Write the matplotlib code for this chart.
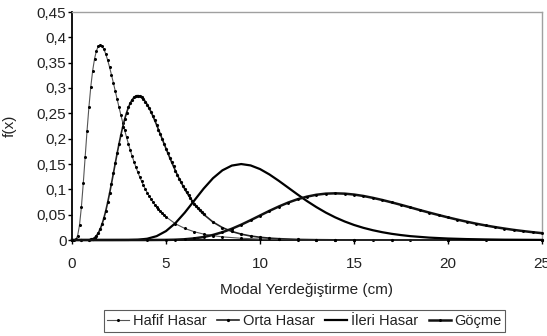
import numpy as np
import matplotlib.pyplot as plt
from matplotlib.ticker import FuncFormatter

plt.rcParams['font.family'] = ['Liberation Sans', 'DejaVu Sans']

# Hafif Hasar (slight damage) - fine steps on the peak, coarse in the tail
x_hafif = [0, 0.1, 0.2, 0.3, 0.4, 0.5, 0.6, 0.7, 0.8, 0.9,
           1.0, 1.1, 1.2, 1.3, 1.4, 1.5, 1.6, 1.7, 1.8, 1.9,
           2.0, 2.1, 2.2, 2.3, 2.4, 2.5, 2.6, 2.7, 2.8, 2.9,
           3.0, 3.1, 3.2, 3.3, 3.4, 3.5, 3.6, 3.7, 3.8, 3.9,
           4.0, 4.1, 4.2, 4.3, 4.4, 4.5, 4.6, 4.7, 4.8, 4.9,
           5.0, 5.5, 6.0, 6.5, 7.0, 7.5, 8.0, 9, 10, 11, 12, 13, 14, 15,
           16, 18, 20, 22, 25]
f_hafif = [0, 0, 0.001, 0.0085, 0.0295, 0.0653, 0.1121, 0.1640, 0.2155, 0.2624,
           0.3025, 0.3344, 0.3579, 0.3737, 0.3824, 0.3850, 0.3826, 0.3762, 0.3666, 0.3546,
           0.3408, 0.3258, 0.3102, 0.2942, 0.2781, 0.2622, 0.2466, 0.2315, 0.2169, 0.2030,
           0.1898, 0.1772, 0.1653, 0.1542, 0.1437, 0.1338, 0.1246, 0.1160, 0.1079, 0.1004,
           0.0934, 0.0869, 0.0809, 0.0752, 0.0700, 0.0651, 0.0606, 0.0564, 0.0526, 0.0489,
           0.0456, 0.0321, 0.0228, 0.0163, 0.0117, 0.0085, 0.0062, 0.0034, 0.0019, 0.0011,
           0.0007, 0.0004, 0.0003, 0.0002, 0.0001, 0.0001, 0, 0, 0]

# Orta Hasar (moderate damage)
x_orta = [0, 0.5, 0.9,
          1.0, 1.1, 1.2, 1.3, 1.4, 1.5, 1.6, 1.7, 1.8, 1.9,
          2.0, 2.1, 2.2, 2.3, 2.4, 2.5, 2.6, 2.7, 2.8, 2.9,
          3.0, 3.1, 3.2, 3.3, 3.4, 3.5, 3.6, 3.7, 3.8, 3.9,
          4.0, 4.1, 4.2, 4.3, 4.4, 4.5, 4.6, 4.7, 4.8, 4.9,
          5.0, 5.1, 5.2, 5.3, 5.4, 5.5, 5.6, 5.7, 5.8, 5.9,
          6.0, 6.1, 6.2, 6.3, 6.4, 6.5, 6.6, 6.7, 6.8, 6.9,
          7.0, 7.5, 8.0, 8.5, 9.0, 9.5, 10, 10.5, 11, 12, 13, 14, 15,
          17, 20, 25]
f_orta = [0, 0, 0.0003,
          0.0010, 0.0023, 0.0046, 0.0084, 0.0139, 0.0216, 0.0315, 0.0437, 0.0581, 0.0745,
          0.0924, 0.1115, 0.1313, 0.1512, 0.1708, 0.1897, 0.2074, 0.2237, 0.2383, 0.2510,
          0.2616, 0.2703, 0.2769, 0.2815, 0.2842, 0.2850, 0.2842, 0.2819, 0.2782, 0.2733,
          0.2674, 0.2605, 0.2530, 0.2448, 0.2362, 0.2272, 0.2180, 0.2086, 0.1992, 0.1898,
          0.1805, 0.1713, 0.1623, 0.1536, 0.1451, 0.1369, 0.1289, 0.1213, 0.1140, 0.1070,
          0.1004, 0.0941, 0.0881, 0.0824, 0.0770, 0.0719, 0.0672, 0.0627, 0.0584, 0.0545,
          0.0507, 0.0354, 0.0245, 0.0168, 0.0116, 0.0079, 0.0054, 0.0037, 0.0026, 0.0012,
          0.0006, 0.0003, 0.0001, 0, 0, 0]

# Ileri Hasar (extensive damage)
x_ileri = [0, 2.0, 3.0, 3.5, 4.0, 4.5, 5.0, 5.5, 6.0, 6.5, 7.0, 7.5, 8.0, 8.5,
           9.0, 9.5, 10, 10.5, 11, 11.5, 12, 12.5, 13, 13.5, 14, 14.5,
           15, 15.5, 16, 16.5, 17, 17.5, 18, 19, 20, 21, 22, 23, 24, 25]
f_ileri = [0, 0, 0.0001, 0.0006, 0.0025, 0.0076, 0.0176, 0.0333, 0.0541, 0.0777,
           0.1013, 0.1220, 0.1375, 0.1469, 0.1499, 0.1472, 0.1400, 0.1294, 0.1168,
           0.1033, 0.0898, 0.0768, 0.0649, 0.0541, 0.0447, 0.0366, 0.0297, 0.0240,
           0.0193, 0.0154, 0.0122, 0.0097, 0.0076, 0.0047, 0.0029, 0.0018, 0.0011,
           0.0006, 0.0004, 0.0002]

# Gocme (collapse)
x_gocme = [0, 4.0, 5.0, 5.5, 6.0, 6.5, 7.0, 7.5, 8.0, 8.5, 9.0, 9.5, 10, 10.5,
           11, 11.5, 12, 12.5, 13, 13.5, 14, 14.5, 15, 15.5, 16, 16.5, 17, 17.5,
           18, 18.5, 19, 19.5, 20, 20.5, 21, 21.5, 22, 22.5, 23, 23.5, 24, 24.5, 25]
f_gocme = [0, 0, 0.0002, 0.0006, 0.0015, 0.0032, 0.0059, 0.0100, 0.0154, 0.0222,
           0.0302, 0.0391, 0.0483, 0.0575, 0.0661, 0.0739, 0.0805, 0.0856, 0.0893,
           0.0915, 0.0921, 0.0915, 0.0897, 0.0869, 0.0832, 0.0790, 0.0743, 0.0694,
           0.0643, 0.0591, 0.0541, 0.0493, 0.0446, 0.0402, 0.0361, 0.0322, 0.0287,
           0.0255, 0.0226, 0.0199, 0.0176, 0.0154, 0.0135]

fig = plt.figure(figsize=(5.47, 3.36), dpi=100)
ax = fig.add_axes([72/547, 1 - 240/336, 470/547, 228/336])

ax.plot(x_hafif, f_hafif, color='#555555', lw=0.8, marker='.', ms=2.4,
        mfc='black', mec='black', label='Hafif Hasar', clip_on=False, zorder=3)
ax.plot(x_orta, f_orta, color='#222222', lw=1.2, marker='.', ms=2.6,
        mfc='black', mec='black', label='Orta Hasar', clip_on=False, zorder=3)
ax.plot(x_ileri, f_ileri, color='black', lw=1.6, label='İleri Hasar',
        clip_on=False, zorder=3)
ax.plot(x_gocme, f_gocme, color='#111111', lw=1.8, marker='.', ms=2.2,
        mfc='black', mec='black', label='Göçme', clip_on=False, zorder=3)

ax.set_xlim(0, 25)
ax.set_ylim(0, 0.45)
ax.set_xticks([0, 5, 10, 15, 20, 25])
ax.set_yticks(np.arange(0, 0.451, 0.05))
ax.yaxis.set_major_formatter(FuncFormatter(lambda v, p: ('%g' % round(v, 2)).replace('.', ',')))

for side in ['top', 'right']:
    ax.spines[side].set_color('#a0a0a0')
    ax.spines[side].set_linewidth(1.0)
for side in ['left', 'bottom']:
    ax.spines[side].set_color('black')
    ax.spines[side].set_linewidth(1.3)
ax.tick_params(direction='out', length=3, width=1.0, colors='black',
               labelsize=11, labelcolor='#222222')
ax.tick_params(axis='x', pad=9)
ax.tick_params(axis='y', pad=1)

ax.set_xlabel('Modal Yerdeğiştirme (cm)', fontsize=11, color='#222222')
ax.xaxis.set_label_coords(0.5, -(283 - 240) / 228)
ax.set_ylabel('f(x)', fontsize=11, color='#222222')
ax.yaxis.set_label_coords((17 - 72) / 470, 0.5)

leg = fig.legend(loc='center', bbox_to_anchor=(304.5/547, 1 - 321/336), ncol=4,
                 fontsize=10.5, frameon=True, fancybox=False, handlelength=1.5,
                 handletextpad=0.25, columnspacing=0.75, borderpad=0.25,
                 borderaxespad=0)
leg.get_frame().set_edgecolor('#333333')
leg.get_frame().set_linewidth(0.8)
for txt in leg.get_texts():
    txt.set_color('#222222')

fig.savefig('out.png', dpi=100)
